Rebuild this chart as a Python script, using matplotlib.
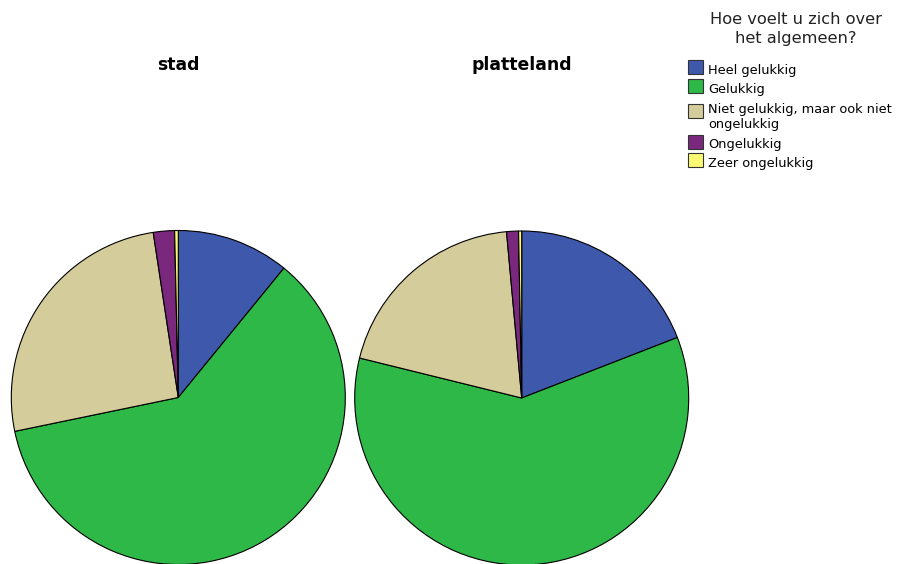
import matplotlib
matplotlib.use("Agg")
import matplotlib.pyplot as plt
from matplotlib.patches import Rectangle

# Answer categories and shares (%) per residence type
categories = ["Heel gelukkig", "Gelukkig",
              "Niet gelukkig, maar ook niet\nongelukkig",
              "Ongelukkig", "Zeer ongelukkig"]
stad = [10.9, 60.85, 25.85, 2.05, 0.35]
platteland = [19.1, 59.75, 19.7, 1.15, 0.3]
panel_titles = ["stad", "platteland"]
legend_title = ["Hoe voelt u zich over", "het algemeen?"]

colors = ["#3E58AC", "#2EB848", "#D4CC9A", "#7A287E", "#FBF873"]

W, H = 898, 564
fig = plt.figure(figsize=(W / 100, H / 100), dpi=100)
ax = fig.add_axes([0, 0, 1, 1])

# pixel-based layout: (center x, center y from top), radius
pies = [(stad, 178.3, 397.5), (platteland, 521.7, 398.0)]
radius = 167
title_x = [178, 522]

for (vals, cx, cy), ttl, tx in zip(pies, panel_titles, title_x):
    ax.pie(vals, colors=colors, startangle=90, counterclock=False,
           center=(cx, H - cy), radius=radius,
           wedgeprops=dict(edgecolor="black", linewidth=0.8))
    ax.text(tx, H - 70, ttl, ha="center", va="baseline",
            fontsize=12.4, fontweight="bold", family="DejaVu Sans")

ax.set_xlim(0, W)
ax.set_ylim(0, H)
ax.set_aspect("equal")
ax.axis("off")

# legend title
ax.text(796, H - 24, legend_title[0], ha="center", va="baseline",
        fontsize=11.7, family="DejaVu Sans", color="#222222")
ax.text(796, H - 43, legend_title[1], ha="center", va="baseline",
        fontsize=11.7, family="DejaVu Sans", color="#222222")

# legend entries: swatch box and label
baselines = [74, 92.7, 112.7, 148, 166.7]
swatch_bottom = [74, 93, 118, 149, 167]
for lab, col, base, sb in zip(categories, colors, baselines, swatch_bottom):
    ax.add_patch(Rectangle((688, H - sb), 14.5, 14.5, facecolor=col,
                           edgecolor="#333333", linewidth=0.8, clip_on=False))
    lines = lab.split("\n")
    for i, ln in enumerate(lines):
        ax.text(708, H - base - i * 15.3, ln, ha="left", va="baseline",
                fontsize=9.3, family="DejaVu Sans", color="black")

fig.savefig("out.png", dpi=100)
